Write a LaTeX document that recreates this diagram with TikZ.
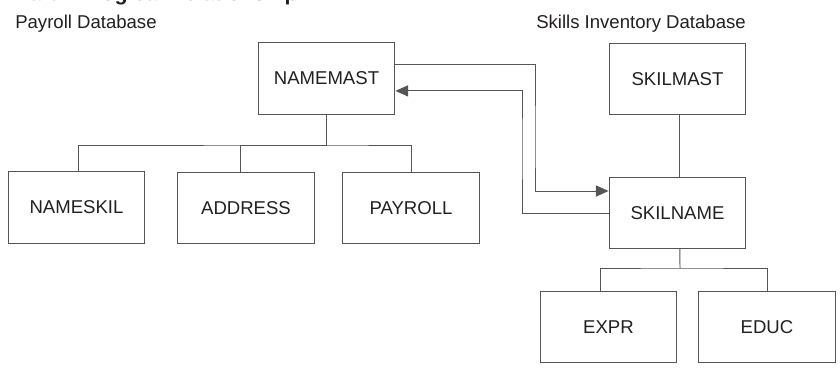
\documentclass[tikz,border=0pt]{standalone}
\usepackage{fontspec}
\setmainfont{Liberation Sans}
\usepackage{tikz}
\usetikzlibrary{arrows.meta, positioning, calc}
\definecolor{linegray}{RGB}{85,85,85}
\definecolor{inkblack}{RGB}{35,31,32}

\begin{document}
\begin{tikzpicture}[
  x=0.025cm, y=-0.025cm,
  seg/.style={rectangle, draw=linegray, line width=0.7pt, minimum width=3.42cm, minimum height=1.78cm, inner sep=0pt, text=inkblack, font=\fontsize{13.2}{15}\selectfont},
  dbtitle/.style={anchor=base west, inner sep=0pt, text=inkblack, font=\fontsize{13.2}{15}\selectfont},
  link/.style={draw=linegray, line width=0.7pt},
  arrow/.style={link, -{Triangle[length=3.2mm, width=2.8mm]}},
]
  \useasboundingbox (0,0) rectangle (840,368);

  \node[dbtitle, font=\fontsize{15.2}{17}\selectfont\bfseries] (part) at (15,0.5) {Part 2. Logical Relationship};
  \node[dbtitle] (paydb) at (15,28.3) {Payroll Database};
  \node[dbtitle] (skilldb) at (536,28.3) {Skills Inventory Database};

  % payroll database
  \node[seg] (NAMEMAST) at (326.5,78.5) {NAMEMAST};
  \node[seg] (NAMESKIL) at (76.5,207.5) {NAMESKIL};
  \node[seg] (ADDRESS) at (246,208) {ADDRESS};
  \node[seg] (PAYROLL) at (411,208) {PAYROLL};
  \coordinate (payjoin) at (326.5,145);

  % skills inventory database
  \node[seg] (SKILMAST) at (677.5,79) {SKILMAST};
  \node[seg] (SKILNAME) at (677.5,213) {SKILNAME};
  \node[seg] (EXPR) at (608.5,327) {EXPR};
  \node[seg] (EDUC) at (767,327) {EDUC};
  \coordinate (skilljoin) at (680,268);

  \draw[link] (NAMEMAST.south) -- (payjoin);
  \draw[link] ([xshift=0.06cm]NAMESKIL.north) |- (payjoin) -| (PAYROLL.north);
  \draw[link] ([xshift=-0.15cm]ADDRESS.north) |- (payjoin);

  \draw[link] ([xshift=0.06cm]SKILMAST.south) -- ([xshift=0.06cm]SKILNAME.north);
  \draw[link] ([xshift=0.06cm]SKILNAME.south) -- (skilljoin);
  \draw[link] ([xshift=-0.21cm]EXPR.north) |- (skilljoin) -| (EDUC.north);

  % logical relationship
  \draw[arrow] ([yshift=0.34cm]NAMEMAST.east) -| ($(NAMEMAST.east)!0.5!(SKILNAME.west)+(33,0)$) |- ([yshift=0.55cm]SKILNAME.west);
  \draw[arrow] (SKILNAME.west) -| ($(NAMEMAST.east)!0.5!(SKILNAME.west)+(20,0)$) |- ([yshift=-0.31cm]NAMEMAST.east);
\end{tikzpicture}
\end{document}
